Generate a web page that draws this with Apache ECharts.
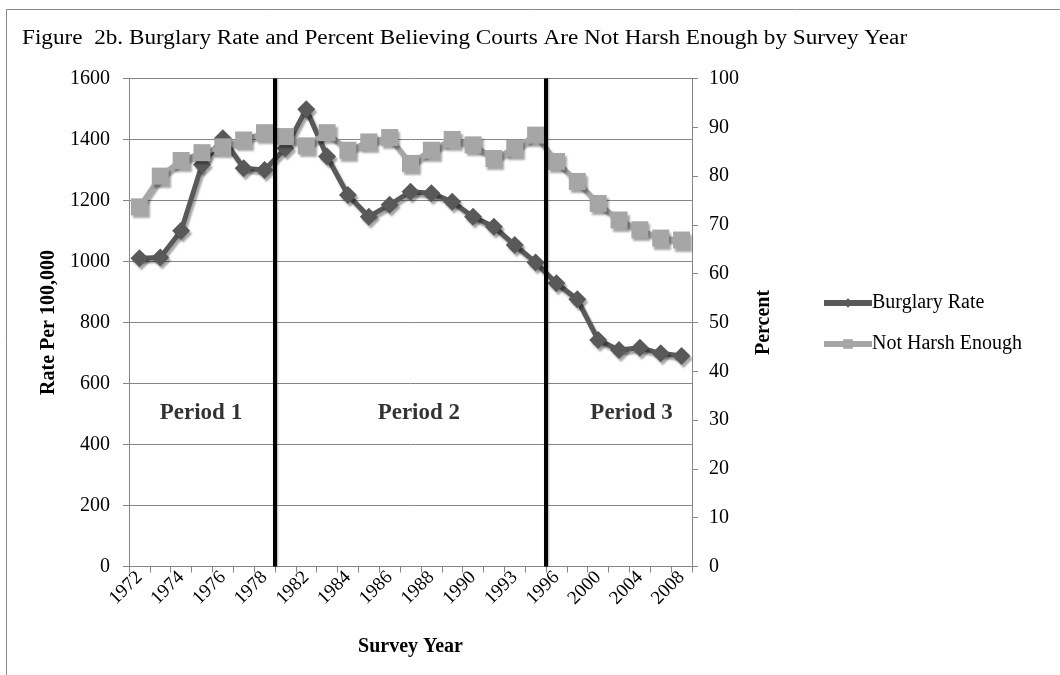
<!DOCTYPE html>
<html>
<head>
<meta charset="utf-8">
<title>Burglary Rate and Percent Believing Courts Are Not Harsh Enough</title>
<script src="https://cdn.jsdelivr.net/npm/echarts@6/dist/echarts.min.js"></script>
<style>
  html, body { margin: 0; padding: 0; background: #fff; }
  #chart { width: 1060px; height: 675px; }
</style>
</head>
<body>
<div id="chart"></div>
<script>
// GSS survey years
var surveyYears = ['1972','1973','1974','1975','1976','1977','1978','1980','1982','1983',
  '1984','1985','1986','1987','1988','1989','1990','1991','1993','1994',
  '1996','1998','2000','2002','2004','2006','2008'];

// Burglary rate per 100,000 (left axis)
var burglaryRate = [1011, 1013, 1101, 1317, 1404, 1306, 1300, 1371, 1499, 1344,
  1218, 1147, 1186, 1229, 1224, 1196, 1147, 1114, 1054, 997,
  929, 876, 743, 710, 717, 699, 690];

// Percent saying courts are not harsh enough (right axis)
var notHarshEnough = [73.7, 80.0, 83.2, 84.8, 86.0, 87.4, 88.9, 88.1, 86.2, 88.9,
  85.3, 87.0, 87.9, 82.6, 85.3, 87.5, 86.4, 83.6, 85.7, 88.4,
  83.0, 78.9, 74.4, 71.0, 69.0, 67.3, 66.9];

// Period boundaries, counted in category slots from the left edge
var periodBreaks = [7, 20];
var periodNames = ['Period 1', 'Period 2', 'Period 3'];

var serif = '"Liberation Serif", "DejaVu Serif", serif';
var axisGray = '#868686';
var shadow = { shadowColor: 'rgba(0,0,0,0.35)', shadowBlur: 2, shadowOffsetX: 2, shadowOffsetY: 3 };

var chart = echarts.init(document.getElementById('chart'), null, { renderer: 'canvas' });

var labelSlots = [3.45, 13.9, 24.1];
var periodPoints = periodNames.map(function (n, i) {
  return { name: n, value: [labelSlots[i], 503] };
});

var plainNumber = function (v) { return String(v); };

chart.setOption({
  animation: false,
  backgroundColor: '#fff',
  textStyle: { fontFamily: serif, color: '#000' },
  graphic: [
    { type: 'line', shape: { x1: 6.5, y1: 9.5, x2: 1060, y2: 9.5 }, style: { stroke: '#888', lineWidth: 1 } },
    { type: 'line', shape: { x1: 6.5, y1: 9.5, x2: 6.5, y2: 675 }, style: { stroke: '#888', lineWidth: 1 } },
    {
      type: 'text', left: 22, top: 29, scaleX: 1.16,
      style: {
        text: 'Figure  2b. Burglary Rate and Percent Believing Courts Are Not Harsh Enough by Survey Year',
        font: '20px ' + serif, fill: '#000'
      }
    }
  ],
  legend: {
    orient: 'vertical',
    left: 816, top: 288,
    itemWidth: 48, itemHeight: 12, itemGap: 21,
    data: ['Burglary Rate', 'Not Harsh Enough'],
    lineStyle: { width: 6 },
    textStyle: { fontFamily: serif, fontSize: 20, color: '#000', padding: [0, 0, 0, -5] }
  },
  grid: { left: 129, right: 368, top: 78.5, bottom: 108.5, containLabel: false },
  xAxis: [{
    type: 'category',
    data: surveyYears,
    boundaryGap: true,
    name: 'Survey Year',
    nameLocation: 'middle',
    nameGap: 70,
    nameTextStyle: { fontFamily: serif, fontSize: 20, fontWeight: 'bold', color: '#000' },
    axisLine: { lineStyle: { color: axisGray, width: 1 } },
    axisTick: { show: true, interval: 0, length: 6, lineStyle: { color: axisGray } },
    axisLabel: { interval: 1, rotate: 45, fontFamily: serif, fontSize: 19, color: '#000', margin: 8 },
    splitLine: { show: false }
  }, {
    type: 'value', min: 0, max: 27, show: false
  }],
  yAxis: [{
    type: 'value', min: 0, max: 1600, interval: 200,
    name: 'Rate Per 100,000',
    nameLocation: 'middle', nameRotate: 90, nameGap: 69,
    nameTextStyle: { fontFamily: serif, fontSize: 20, fontWeight: 'bold', color: '#000' },
    axisLine: { show: true, lineStyle: { color: axisGray, width: 1 } },
    axisTick: { show: true, length: 6, lineStyle: { color: axisGray } },
    axisLabel: { fontFamily: serif, fontSize: 20, color: '#000', margin: 19, formatter: plainNumber },
    splitLine: { show: true, lineStyle: { color: axisGray, width: 1 } }
  }, {
    type: 'value', min: 0, max: 100, interval: 10, position: 'right',
    name: 'Percent',
    nameLocation: 'middle', nameRotate: 90, nameGap: 62,
    nameTextStyle: { fontFamily: serif, fontSize: 20, fontWeight: 'bold', color: '#000' },
    axisLine: { show: true, lineStyle: { color: axisGray, width: 1 } },
    axisTick: { show: true, length: 6, lineStyle: { color: axisGray } },
    axisLabel: { fontFamily: serif, fontSize: 20, color: '#000', margin: 17, formatter: plainNumber },
    splitLine: { show: false }
  }],
  series: [{
    name: 'Burglary Rate',
    type: 'line',
    data: burglaryRate,
    xAxisIndex: 0, yAxisIndex: 0,
    symbol: 'diamond', symbolSize: 18,
    showSymbol: true, showAllSymbol: true,
    color: '#595959',
    lineStyle: Object.assign({ color: '#595959', width: 5 }, shadow),
    itemStyle: Object.assign({ color: '#595959' }, shadow),
    z: 3
  }, {
    name: 'Not Harsh Enough',
    type: 'line',
    data: notHarshEnough,
    xAxisIndex: 0, yAxisIndex: 1,
    symbol: 'rect', symbolSize: 17,
    showSymbol: true, showAllSymbol: true,
    color: '#a6a6a6',
    lineStyle: Object.assign({ color: '#a6a6a6', width: 5 }, shadow),
    itemStyle: Object.assign({ color: '#a6a6a6' }, shadow),
    z: 4
  }, {
    name: 'periods',
    type: 'scatter',
    xAxisIndex: 1, yAxisIndex: 0,
    symbolSize: 0,
    silent: true,
    data: periodPoints,
    label: {
      show: true, position: 'inside',
      formatter: '{b}',
      fontFamily: serif, fontSize: 23, fontWeight: 'bold', color: '#000'
    },
    markLine: {
      silent: true,
      symbol: 'none',
      label: { show: false },
      lineStyle: { color: '#000', width: 4, type: 'solid', shadowColor: 'rgba(0,0,0,0.3)', shadowBlur: 2, shadowOffsetX: 1 },
      data: periodBreaks.map(function (b) { return { xAxis: b }; })
    },
    z: 5
  }]
});
</script>
</body>
</html>
